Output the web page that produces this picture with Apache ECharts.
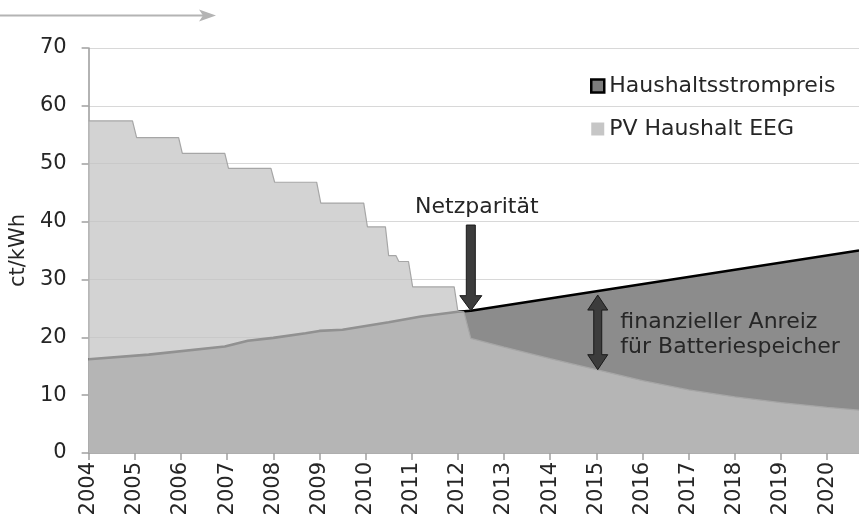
<!DOCTYPE html>
<html><head><meta charset="utf-8">
<script src="https://cdn.jsdelivr.net/npm/echarts@6/dist/echarts.min.js"></script>
<style>html,body{margin:0;padding:0;background:#fff}#c{width:859px;height:524px}</style>
</head><body><div id="c"></div>
<script>
// ---- data ----
const seriesNames = ['Haushaltsstrompreis', 'PV Haushalt EEG'];
const hhYears = [2004, 2005.3, 2006.95, 2007.45, 2008.0, 2008.7, 2009.0, 2009.5, 2010.5, 2011.2, 2012.0, 2012.28, 2020.69];
const hhPrice = [16.2, 17.0, 18.4, 19.4, 19.9, 20.7, 21.1, 21.3, 22.6, 23.6, 24.4, 24.6, 35.0];
const pvYears = [2004, 2004.95, 2005.04, 2005.95, 2006.03, 2006.95, 2007.03, 2007.95, 2008.03, 2008.94, 2009.03, 2009.96, 2010.04, 2010.43, 2010.5, 2010.66, 2010.72, 2010.93, 2011.02, 2011.92, 2012.0, 2012.13, 2012.28, 2013, 2014, 2015, 2016, 2017, 2018, 2019, 2020, 2020.69];
const pvTariff = [57.4, 57.4, 54.5, 54.5, 51.8, 51.8, 49.2, 49.2, 46.8, 46.8, 43.2, 43.2, 39.1, 39.1, 34.1, 34.1, 33.1, 33.1, 28.7, 28.7, 24.5, 24.4, 19.8, 18.3, 16.3, 14.4, 12.5, 10.9, 9.7, 8.7, 7.9, 7.4];
const xMin = 2004, xMax = 2020.69, xStep = 1;
const yMin = 0, yMax = 70, yStep = 10;
const yName = 'ct/kWh';
// annotations (data coordinates)
const parityText = 'Netzparität';
const parityTip = [2012.28, 24.6];
const parityTop = 39.4;
const parityTextPos = [2012.41, 42.4];
const incentiveText = 'finanzieller Anreiz\nfür Batteriespeicher';
const incentiveArrow = {x: 2015.03, low: 14.4, high: 27.3};
const incentiveTextPos = [2015.52, 20.5];

const F = 'DejaVu Sans, Verdana, sans-serif';
const TXT = '#262626';
const chart = echarts.init(document.getElementById('c'), null, {renderer: 'canvas'});

chart.setOption({
  animation: false,
  backgroundColor: '#fff',
  grid: {left: 87, right: 0, top: 48, bottom: 71},
  legend: {
    orient: 'vertical', left: 585, top: 70, itemGap: 21,
    itemWidth: 13, itemHeight: 13,
    textStyle: {fontFamily: F, fontSize: 22, color: TXT},
    data: [
      {name: seriesNames[0], icon: 'rect', itemStyle: {color: '#7c7c7c', borderColor: '#000', borderWidth: 2.5}},
      {name: seriesNames[1], icon: 'rect', itemStyle: {color: '#c6c6c6', borderWidth: 0}}
    ]
  },
  xAxis: {
    type: 'value', min: xMin, max: xMax, interval: xStep,
    axisLine: {show: true, lineStyle: {color: '#a0a0a0', width: 1.6}},
    axisTick: {show: true, length: 7, lineStyle: {color: '#a0a0a0', width: 1.5}},
    splitLine: {show: false},
    axisLabel: {
      rotate: 90, margin: 9, fontFamily: F, fontSize: 21, color: TXT,
      showMaxLabel: false,
      formatter: v => (Math.abs(v - Math.round(v)) < 1e-6 ? String(Math.round(v)) : '')
    }
  },
  yAxis: {
    type: 'value', min: yMin, max: yMax, interval: yStep,
    name: yName, nameLocation: 'middle', nameGap: 59, nameRotate: 90,
    nameTextStyle: {fontFamily: F, fontSize: 21, color: TXT},
    axisLine: {show: true, lineStyle: {color: '#a0a0a0', width: 1.6}},
    axisTick: {show: true, length: 7, lineStyle: {color: '#a0a0a0', width: 1.5}},
    splitLine: {show: true, lineStyle: {color: '#d8d8d8', width: 1.2}},
    axisLabel: {margin: 22, fontFamily: F, fontSize: 21, color: TXT}
  },
  series: [
    {
      name: seriesNames[0], type: 'line', symbol: 'none', z: 2,
      data: hhYears.map((x, i) => [x, hhPrice[i]]),
      lineStyle: {color: '#000', width: 2.6},
      itemStyle: {color: '#8c8c8c'},
      areaStyle: {color: 'rgb(140,140,140)', opacity: 1}
    },
    {
      name: seriesNames[1], type: 'line', symbol: 'none', z: 3,
      data: pvYears.map((x, i) => [x, pvTariff[i]]),
      lineStyle: {color: '#a6a6a6', width: 1.2},
      itemStyle: {color: '#c6c6c6'},
      areaStyle: {color: 'rgb(196,196,196)', opacity: 0.74}
    }
  ]
});

function px(p) { return chart.convertToPixel({gridIndex: 0}, p); }

function downArrow(cx, yTop, yTip, sw, hw, hh) {
  return [[cx - sw / 2, yTop], [cx + sw / 2, yTop], [cx + sw / 2, yTip - hh], [cx + hw / 2, yTip - hh],
          [cx, yTip], [cx - hw / 2, yTip - hh], [cx - sw / 2, yTip - hh]];
}
function doubleArrow(cx, yTop, yBot, sw, hw, hh) {
  return [[cx, yTop], [cx + hw / 2, yTop + hh], [cx + sw / 2, yTop + hh], [cx + sw / 2, yBot - hh],
          [cx + hw / 2, yBot - hh], [cx, yBot], [cx - hw / 2, yBot - hh], [cx - sw / 2, yBot - hh],
          [cx - sw / 2, yTop + hh], [cx - hw / 2, yTop + hh]];
}

const pTip = px(parityTip);
const pTop = px([parityTip[0], parityTop]);
const pText = px(parityTextPos);
const iTop = px([incentiveArrow.x, incentiveArrow.high]);
const iBot = px([incentiveArrow.x, incentiveArrow.low]);
const iText = px(incentiveTextPos);

chart.setOption({
  graphic: [
    // decorative arrow top-left
    {type: 'line', shape: {x1: 0, y1: 15.5, x2: 210, y2: 15.5}, style: {stroke: '#b4b4b4', lineWidth: 2}, silent: true},
    {type: 'polygon', shape: {points: [[199, 9.5], [216, 15.5], [199, 21.5], [203, 15.5]]}, style: {fill: '#b4b4b4'}, silent: true},
    // Netzparität arrow
    {type: 'polygon', z: 100, shape: {points: downArrow(pTip[0], pTop[1], pTip[1], 9, 22, 15)},
     style: {fill: '#3c3c3c', stroke: '#1a1a1a', lineWidth: 1}},
    {type: 'text', z: 100, x: pText[0], y: pText[1],
     style: {text: parityText, font: '22px ' + F, fill: TXT, align: 'center', verticalAlign: 'middle'}},
    // incentive double arrow
    {type: 'polygon', z: 100, shape: {points: doubleArrow(iTop[0], iTop[1], iBot[1], 8, 20, 15)},
     style: {fill: '#3c3c3c', stroke: '#1a1a1a', lineWidth: 1}},
    {type: 'text', z: 100, x: iText[0], y: iText[1],
     style: {text: incentiveText, font: '22px ' + F, fill: TXT, align: 'left', verticalAlign: 'middle', lineHeight: 25}}
  ]
});
</script>
</body></html>
